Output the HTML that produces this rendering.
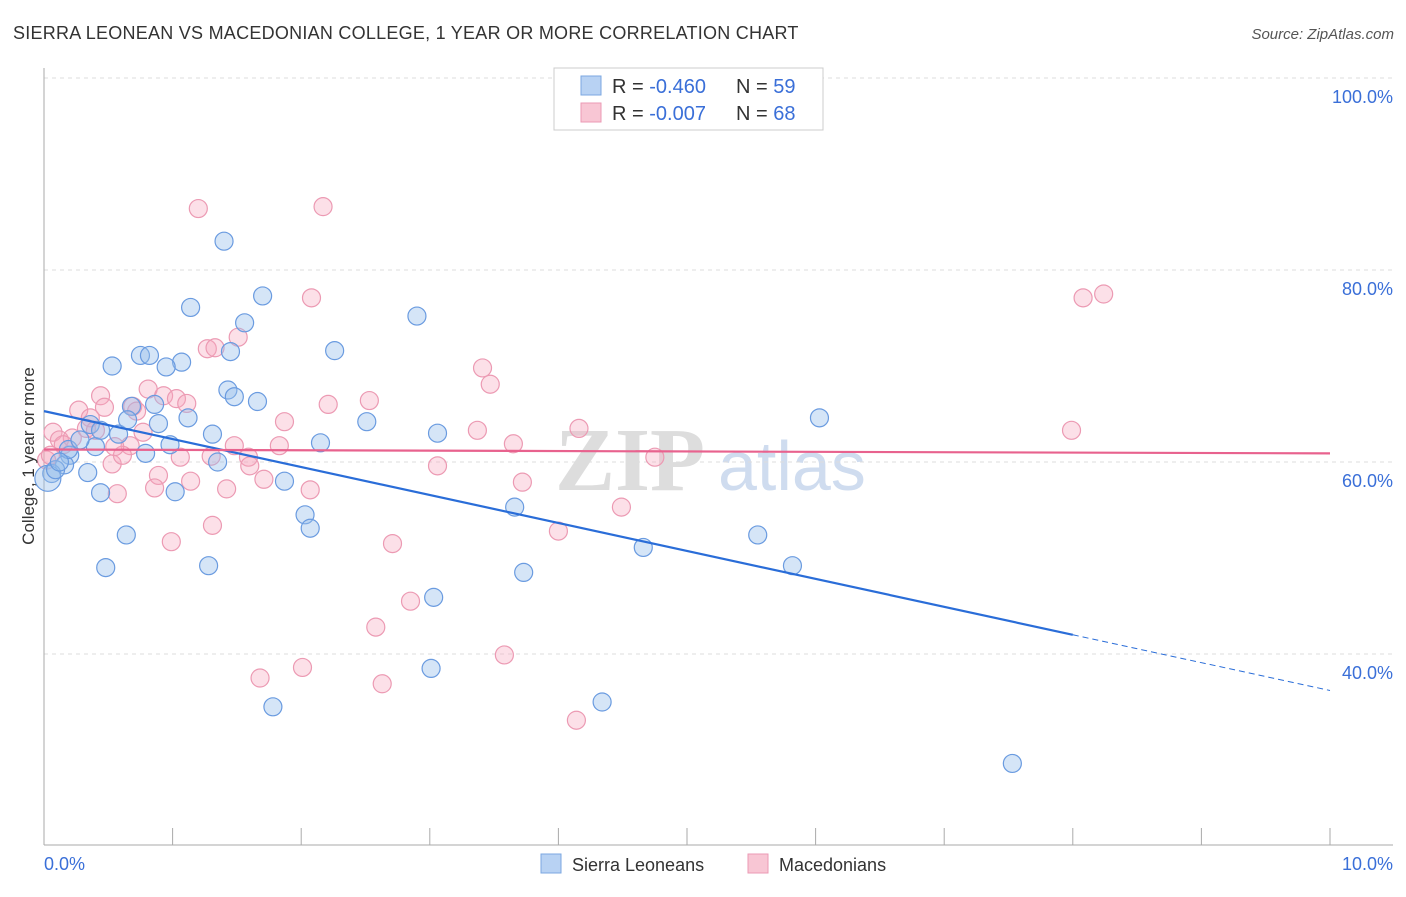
<!DOCTYPE html>
<html><head><meta charset="utf-8"><style>
body{margin:0;background:#fff;font-family:"Liberation Sans",sans-serif;}
</style></head><body>
<svg id="chart" width="1406" height="892" xmlns="http://www.w3.org/2000/svg" font-family="Liberation Sans, sans-serif">
<text x="13" y="39" font-size="18" fill="#333" letter-spacing="0.25">SIERRA LEONEAN VS MACEDONIAN COLLEGE, 1 YEAR OR MORE CORRELATION CHART</text>
<text x="1394" y="39" font-size="15" fill="#555" font-style="italic" text-anchor="end">Source: ZipAtlas.com</text>
<g>
<text x="555" y="490" font-size="90" font-family="Liberation Serif, serif" fill="#ddd" font-weight="bold">ZIP</text>
<text x="718" y="490" font-size="70" fill="#cfdcef">atlas</text>
</g>
<g id="grid"></g>
<g id="marks"></g>
<g>
<rect x="554" y="68" width="269" height="62" fill="#fff" stroke="#ccc"/>
<rect x="581" y="76" width="20" height="19" fill="#b8d2f3" stroke="#7ba7e0"/>
<rect x="581" y="103" width="20" height="19" fill="#f8c6d4" stroke="#eb9ab4"/>
<text x="612" y="93" font-size="20" fill="#333">R = <tspan fill="#3a6fd8">-0.460</tspan></text>
<text x="736" y="93" font-size="20" fill="#333">N = <tspan fill="#3a6fd8">59</tspan></text>
<text x="612" y="120" font-size="20" fill="#333">R = <tspan fill="#3a6fd8">-0.007</tspan></text>
<text x="736" y="120" font-size="20" fill="#333">N = <tspan fill="#3a6fd8">68</tspan></text>
</g>
<g>
<rect x="541" y="854" width="20" height="19" fill="#b8d2f3" stroke="#7ba7e0"/>
<text x="572" y="871" font-size="18" fill="#333">Sierra Leoneans</text>
<rect x="748" y="854" width="20" height="19" fill="#f8c6d4" stroke="#eb9ab4"/>
<text x="779" y="871" font-size="18" fill="#333">Macedonians</text>
</g>
<text transform="translate(34,456) rotate(-90)" font-size="17" fill="#333" text-anchor="middle">College, 1 year or more</text>
</svg>
<script>
const yTicks=[100,80,60,40];
const xTickLabels=["0.0%","10.0%"];
const blueX=[1.40,1.14,1.70,1.56,2.90,2.26,0.53,0.75,0.82,1.07,0.95,1.45,1.43,1.48,1.66,0.68,0.86,1.12,0.89,0.58,1.31,2.51,3.06,6.03,2.15,0.40,0.79,0.98,1.35,0.20,0.16,0.06,0.34,0.44,1.02,1.87,2.03,2.07,3.66,0.64,0.48,1.28,3.73,4.66,5.55,5.82,3.03,3.01,1.78,4.34,7.53,0.03,0.36,0.19,0.09,0.65,0.28,0.44,0.12];
const blueY=[83.0,76.1,77.3,74.5,75.2,71.6,70.0,71.1,71.1,70.4,69.9,71.5,67.5,66.8,66.3,65.8,66.0,64.6,64.0,62.9,62.9,64.2,63.0,64.6,62.0,61.6,60.9,61.8,60.0,60.7,59.7,58.8,58.9,56.8,56.9,58.0,54.5,53.1,55.3,52.4,49.0,49.2,48.5,51.1,52.4,49.2,45.9,38.5,34.5,35.0,28.6,58.3,63.9,61.3,59.2,64.4,62.3,63.3,60.0];
const pinkX=[1.20,2.17,2.08,8.08,8.24,1.51,1.27,1.33,3.41,3.47,0.81,0.44,0.93,1.03,1.11,0.47,0.69,0.27,0.72,2.53,2.21,0.36,1.87,3.37,4.16,7.99,0.77,0.07,0.12,0.33,0.22,1.48,1.83,0.67,3.65,1.06,1.30,1.59,4.75,3.06,0.53,1.60,0.61,0.89,1.14,1.71,3.72,0.86,1.42,0.57,2.07,4.49,1.31,4.00,2.71,0.99,2.85,2.58,3.58,2.01,1.68,2.63,4.14,0.02,0.15,0.40,0.55,0.05];
const pinkY=[86.4,86.6,77.1,77.1,77.5,73.0,71.8,71.9,69.8,68.1,67.6,66.9,66.9,66.6,66.1,65.7,65.8,65.4,65.3,66.4,66.0,64.6,64.2,63.3,63.5,63.3,63.1,63.1,62.3,63.5,62.5,61.7,61.7,61.7,61.9,60.5,60.6,60.5,60.5,59.6,59.8,59.6,60.7,58.6,58.0,58.2,57.9,57.3,57.2,56.7,57.1,55.3,53.4,52.8,51.5,51.7,45.5,42.8,39.9,38.6,37.5,36.9,33.1,60.2,61.8,63.3,61.6,60.7];
const blueTrend=[65.3,42.0,36.2]; // at x=0, 8, 10
const pinkTrend=[61.3,60.9]; // at x=0, 10
const NS="http://www.w3.org/2000/svg";
const sx=v=>44+v*128.6, sy=v=>78+(100-v)*9.6;
function mk(t,a,p){const e=document.createElementNS(NS,t);for(const k in a)e.setAttribute(k,a[k]);p.appendChild(e);return e;}
const grid=document.getElementById('grid'), marks=document.getElementById('marks');
yTicks.forEach(t=>{
 const l=mk('line',{x1:44,x2:1393,y1:sy(t),y2:sy(t),stroke:'#ddd','stroke-dasharray':'4,4'},grid);
 
 
 const tx=mk('text',{x:1393,y:sy(t)+25,'font-size':18,fill:'#3a6fd8','text-anchor':'end'},grid);
 tx.textContent=t.toFixed(1)+'%';
 
 
});
const ax=mk('line',{x1:44,x2:44,y1:68,y2:845,stroke:'#aaa'},grid);


const bx=mk('line',{x1:44,x2:1393,y1:845,y2:845,stroke:'#aaa'},grid);


for(let i=0;i<=10;i++){
 const t=mk('line',{x1:sx(i),x2:sx(i),y1:828,y2:845,stroke:'#aaa'},grid);
 
 
}
[[0,'start',44],[1,'end',1393]].forEach(([i,a,x])=>{
 const t=mk('text',{x:x,y:870,'font-size':18,fill:'#3a6fd8','text-anchor':a},grid);
 t.textContent=xTickLabels[i];
 
 
});
pinkX.forEach((x,i)=>{
 const c=mk('circle',{cx:sx(x),cy:sy(pinkY[i]),r:9,fill:'rgba(245,165,190,0.35)',stroke:'#ec9ab3','stroke-width':1.2},marks);
 
 
});
blueX.forEach((x,i)=>{
 const c=mk('circle',{cx:sx(x),cy:sy(blueY[i]),r:i==51?13:9,fill:'rgba(150,190,235,0.4)',stroke:'#6a9be0','stroke-width':1.2},marks);
 
 
});
const bl=mk('line',{x1:sx(0),y1:sy(blueTrend[0]),x2:sx(8),y2:sy(blueTrend[1]),stroke:'#2a6dd8','stroke-width':2.2},marks);


const bd=mk('line',{x1:sx(8),y1:sy(blueTrend[1]),x2:sx(10),y2:sy(blueTrend[2]),stroke:'#2a6dd8','stroke-width':1,'stroke-dasharray':'6,4'},marks);


const pl=mk('line',{x1:sx(0),y1:sy(pinkTrend[0]),x2:sx(10),y2:sy(pinkTrend[1]),stroke:'#e8628e','stroke-width':2.2},marks);


</script>
</body></html>
